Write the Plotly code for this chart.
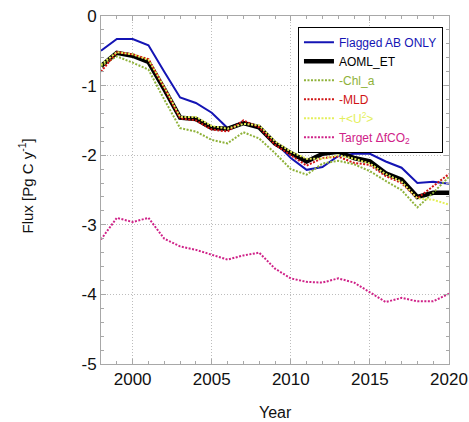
import plotly.graph_objects as go

years = list(range(1998, 2021))

flagged_ab_only = [-0.50, -0.33, -0.33, -0.42, -0.80, -1.17, -1.25, -1.39, -1.61, -1.52, -1.59,
                   -1.82, -2.04, -2.21, -2.17, -2.01, -1.98, -1.98, -2.09, -2.18, -2.40, -2.38, -2.41]
aoml_et = [-0.72, -0.53, -0.57, -0.66, -1.05, -1.46, -1.48, -1.61, -1.62, -1.54, -1.60,
           -1.83, -1.97, -2.09, -1.98, -1.95, -2.04, -2.09, -2.26, -2.35, -2.60, -2.54, -2.54]
minus_chl_a = [-0.72, -0.58, -0.67, -0.77, -1.20, -1.61, -1.66, -1.78, -1.83, -1.67, -1.76,
               -1.97, -2.20, -2.28, -2.12, -2.08, -2.13, -2.23, -2.37, -2.50, -2.75, -2.54, -2.31]
minus_mld = [-0.80, -0.52, -0.55, -0.62, -1.03, -1.47, -1.50, -1.63, -1.66, -1.50, -1.60,
             -1.85, -2.00, -2.15, -2.04, -2.02, -2.11, -2.14, -2.30, -2.40, -2.62, -2.45, -2.27]
plus_u2 = [-0.70, -0.52, -0.55, -0.63, -1.02, -1.45, -1.45, -1.58, -1.62, -1.55, -1.57,
           -1.80, -1.95, -2.05, -2.05, -2.00, -2.05, -2.12, -2.27, -2.38, -2.62, -2.64, -2.71]
target_dfco2 = [-3.21, -2.90, -2.96, -2.90, -3.20, -3.31, -3.36, -3.43, -3.50, -3.44, -3.40,
                -3.63, -3.77, -3.82, -3.83, -3.77, -3.83, -3.97, -4.11, -4.05, -4.10, -4.10, -3.99]

x_ticks = [2000, 2005, 2010, 2015, 2020]
y_ticks = [0, -1, -2, -3, -4, -5]
y_ticktext = ["0", "-1", "-2", "-3", "-4", "-5"]

series = [
    ("Flagged AB ONLY", flagged_ab_only, "#1414b4", 2, "solid"),
    ("AOML_ET", aoml_et, "#000000", 4.5, "solid"),
    ("-Chl_a", minus_chl_a, "#8fb23a", 2, "2px,1.5px"),
    ("-MLD", minus_mld, "#d01414", 2, "2px,1.5px"),
    ("+&lt;U<sup>2</sup>&gt;", plus_u2, "#e4ef5a", 2, "2px,1.5px"),
    ("Target ΔfCO<sub>2</sub>", target_dfco2, "#cf2288", 2, "2px,1.5px"),
]

FONT = "Liberation Sans, Arial, sans-serif"

fig = go.Figure()
for name, vals, color, width, dash in series:
    fig.add_trace(go.Scatter(
        x=years, y=vals, mode="lines",
        name=f"<span style='color:{color}'>{name}</span>",
        line=dict(color=color, width=width, dash=dash),
    ))

axis_common = dict(
    showline=True, linecolor="#a8a8a8", linewidth=1, mirror="ticks",
    ticks="inside", ticklen=5, tickcolor="#a8a8a8",
    showgrid=True, gridcolor="#bdbdbd", griddash="1px,2px", gridwidth=1,
    zeroline=False, automargin=False,
    tickfont=dict(family=FONT, size=17, color="#111"),
)

fig.update_xaxes(
    range=[1998, 2020], tickvals=x_ticks, ticktext=[str(v) for v in x_ticks],
    minor=dict(dtick=1, tick0=1998, ticks="inside", ticklen=3, tickcolor="#a8a8a8", showgrid=False),
    **axis_common,
)
fig.update_yaxes(
    range=[-5, 0], tickvals=y_ticks, ticktext=y_ticktext,
    minor=dict(dtick=0.2, tick0=0, ticks="inside", ticklen=3, tickcolor="#a8a8a8", showgrid=False),
    **axis_common,
)

# axis titles
fig.add_annotation(
    text="Year", xref="paper", yref="paper", x=0.5, y=-0.138,
    xanchor="center", yanchor="middle", showarrow=False,
    font=dict(family=FONT, size=16, color="#111"),
)
fig.add_annotation(
    text="Flux [Pg C y<sup>-1</sup>]", xref="paper", yref="paper", x=-0.2155, y=0.51,
    xanchor="center", yanchor="middle", showarrow=False, textangle=-90,
    font=dict(family=FONT, size=15, color="#111"),
)

fig.update_layout(
    width=469, height=422, autosize=False,
    margin=dict(l=101, r=20, t=16, b=58),
    paper_bgcolor="white", plot_bgcolor="white",
    showlegend=True,
    legend=dict(
        x=0.566, y=0.969, xanchor="left", yanchor="top",
        bgcolor="white", bordercolor="#000", borderwidth=1,
        font=dict(family=FONT, size=12),
        tracegroupgap=0, itemwidth=30,
    ),
)

fig.write_html("out.html")
